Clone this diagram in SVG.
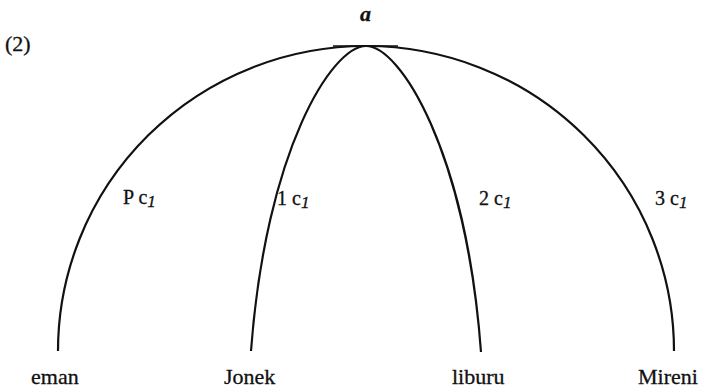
<svg xmlns="http://www.w3.org/2000/svg" width="707" height="391" viewBox="0 0 707 391">
<style>
  text { font-family: "Liberation Serif", "Times New Roman", serif; fill: #111; stroke: #111; stroke-width: 0.3; }
  .lbl { font-size: 22px; }
  .edge { font-size: 20px; }
  .sub { font-style: italic; font-size: 17px; }
  .top { font-size: 22px; font-style: italic; font-weight: bold; }
  .arc { fill: none; stroke: #111; stroke-width: 2.2; stroke-linecap: butt; }
  .cap { fill: none; stroke: #111; stroke-width: 1.6; }
</style>
<rect width="707" height="391" fill="#fff"/>
<text class="lbl" x="5" y="51">(2)</text>
<g id="connectors">
  <line class="cap" x1="333" y1="46" x2="398" y2="46"/>
  <path id="e-eman" class="arc" d="M58,351 A308,305 0 0 1 366,46"/>
  <path id="e-mireni" class="arc" d="M366,46 A308,305 0 0 1 674,351"/>
  <path id="e-jonek" class="arc" d="M366,46 C332,46 266,150 251,351"/>
  <path id="e-liburu" class="arc" d="M366,46 C400,46 466,150 481,352"/>
  <text class="edge" x="123" y="204">P c<tspan class="sub" dy="3">1</tspan></text>
  <text class="edge" x="277" y="205">1 c<tspan class="sub" dy="3">1</tspan></text>
  <text class="edge" x="479" y="205">2 c<tspan class="sub" dy="3">1</tspan></text>
  <text class="edge" x="655" y="205">3 c<tspan class="sub" dy="3">1</tspan></text>
</g>
<g id="node-a"><text class="top" x="360" y="21">a</text></g>
<g id="node-eman"><text class="lbl" x="31" y="384">eman</text></g>
<g id="node-jonek"><text class="lbl" x="224" y="384">Jonek</text></g>
<g id="node-liburu"><text class="lbl" x="452" y="384">liburu</text></g>
<g id="node-mireni"><text class="lbl" x="638" y="384">Mireni</text></g>
</svg>
